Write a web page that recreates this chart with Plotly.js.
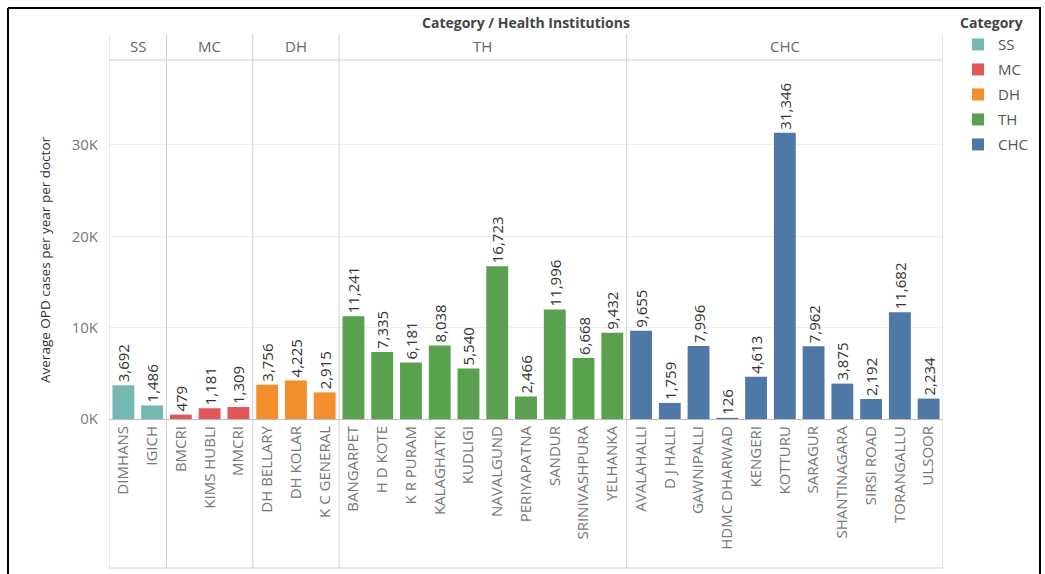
<!DOCTYPE html>
<html><head><meta charset="utf-8">
<script src="https://cdn.plot.ly/plotly-3.0.1.min.js"></script>
<style>body{margin:0;background:#fff}#c{width:1045px;height:574px}</style>
</head><body><div id="c"></div>
<script>
const groups = ["SS","MC","DH","TH","CHC"];
const groupColors = ["#76b7b2","#e15759","#f28e2b","#59a14f","#4e79a7"];
const ssNames = ["DIMHANS","IGICH"];
const ssValues = [3692,1486];
const mcNames = ["BMCRI","KIMS HUBLI","MMCRI"];
const mcValues = [479,1181,1309];
const dhNames = ["DH BELLARY","DH KOLAR","K C GENERAL"];
const dhValues = [3756,4225,2915];
const thNames = ["BANGARPET","H D KOTE","K R PURAM","KALAGHATKI","KUDLIGI","NAVALGUND","PERIYAPATNA","SANDUR","SRINIVASHPURA","YELHANKA"];
const thValues = [11241,7335,6181,8038,5540,16723,2466,11996,6668,9432];
const chcNames = ["AVALAHALLI","D J HALLI","GAWNIPALLI","HDMC DHARWAD","KENGERI","KOTTURU","SARAGUR","SHANTINAGARA","SIRSI ROAD","TORANGALLU","ULSOOR"];
const chcValues = [9655,1759,7996,126,4613,31346,7962,3875,2192,11682,2234];
const yTickVals = [0,10000,20000,30000];
const yTickText = ["0K","10K","20K","30K"];

const names = [ssNames,mcNames,dhNames,thNames,chcNames];
const values = [ssValues,mcValues,dhValues,thValues,chcValues];

const W=1045,H=574, L=109, R=102, T=60, B=155;
const pw=W-L-R, ph=H-T-B;
const px2x = p => (p-L)/pw;
const py2y = p => (H-B-p)/ph;

const allNames = [].concat(...names);
const FONT = "Open Sans, Noto Sans, sans-serif";

const traces = groups.map((g,i)=>({
  type:"bar", name:g, legendgroup:g, x:names[i], y:values[i],
  marker:{color:groupColors[i]},
  width:0.76,
  text:values[i].map(v=>v.toLocaleString("en-US")),
  textposition:"outside", textangle:-90, constraintext:"none",
  textfont:{size:15,color:"#333",family:FONT},
  cliponaxis:false, hoverinfo:"x+y"
}));

const shapes=[], annotations=[];
let start=0;
const yTop = py2y(34), yHead = 1, yBot = py2y(568);
groups.forEach((g,i)=>{
  const n=names[i].length;
  shapes.push({type:"line",xref:"x",yref:"paper",x0:start-0.5,x1:start-0.5,y0:yBot,y1:yTop,line:{color:"#d0d0d0",width:1}});
  annotations.push({xref:"x",yref:"paper",x:start+(n-1)/2,y:py2y(46),text:g,showarrow:false,yanchor:"middle",font:{size:15,color:"#666",family:FONT}});
  start+=n;
});
shapes.push({type:"line",xref:"x",yref:"paper",x0:start-0.5,x1:start-0.5,y0:yBot,y1:yTop,line:{color:"#d0d0d0",width:1}});
shapes.push({type:"line",xref:"x",yref:"paper",x0:-0.5,x1:start-0.5,y0:yHead,y1:yHead,line:{color:"#d0d0d0",width:1}});
shapes.push({type:"line",xref:"x",yref:"paper",x0:-0.5,x1:start-0.5,y0:yBot,y1:yBot,line:{color:"#d0d0d0",width:1}});
// screenshot frame
shapes.push({type:"line",xref:"paper",yref:"paper",x0:px2x(8),x1:px2x(1041),y0:py2y(8),y1:py2y(8),line:{color:"#000",width:2}});
shapes.push({type:"line",xref:"paper",yref:"paper",x0:px2x(8),x1:px2x(8),y0:py2y(8),y1:py2y(574),line:{color:"#000",width:2}});
shapes.push({type:"line",xref:"paper",yref:"paper",x0:px2x(1040),x1:px2x(1040),y0:py2y(8),y1:py2y(574),line:{color:"#000",width:2}});

annotations.push({xref:"paper",yref:"paper",x:0.5,y:py2y(22),text:"<b>Category / Health Institutions</b>",showarrow:false,yanchor:"middle",font:{size:14,color:"#444",family:FONT}});
annotations.push({xref:"paper",yref:"paper",x:px2x(45),y:py2y(260),text:"Average OPD cases per year per doctor",textangle:-90,showarrow:false,xanchor:"center",yanchor:"middle",font:{size:13.5,color:"#333",family:FONT}});

const layout={
  width:W,height:H,margin:{l:L,r:R,t:T,b:B,pad:0,autoexpand:false},
  paper_bgcolor:"#fff",plot_bgcolor:"#fff",
  showlegend:true,
  legend:{x:px2x(958),y:py2y(10),xanchor:"left",yanchor:"top",tracegroupgap:2.5,
    title:{text:"<b>Category</b>",font:{size:14,color:"#444",family:FONT}},
    font:{size:15,color:"#555",family:FONT},bgcolor:"rgba(0,0,0,0)"},
  bargap:0.24,
  xaxis:{type:"category",categoryorder:"array",categoryarray:allNames,range:[-0.5,allNames.length-0.5],
    tickangle:-90,tickfont:{size:15,color:"#777",family:FONT},showgrid:false,showline:true,linecolor:"#bbb",ticks:"",fixedrange:true},
  yaxis:{range:[0,39300],tickvals:yTickVals,ticktext:yTickText,showgrid:true,gridcolor:"#eeeeee",zeroline:false,
    tickfont:{size:15,color:"#777",family:FONT},ticks:"",ticklabelstandoff:10},
  shapes,annotations
};
Plotly.newPlot("c",traces,layout,{displayModeBar:false,staticPlot:true});
</script></body></html>
